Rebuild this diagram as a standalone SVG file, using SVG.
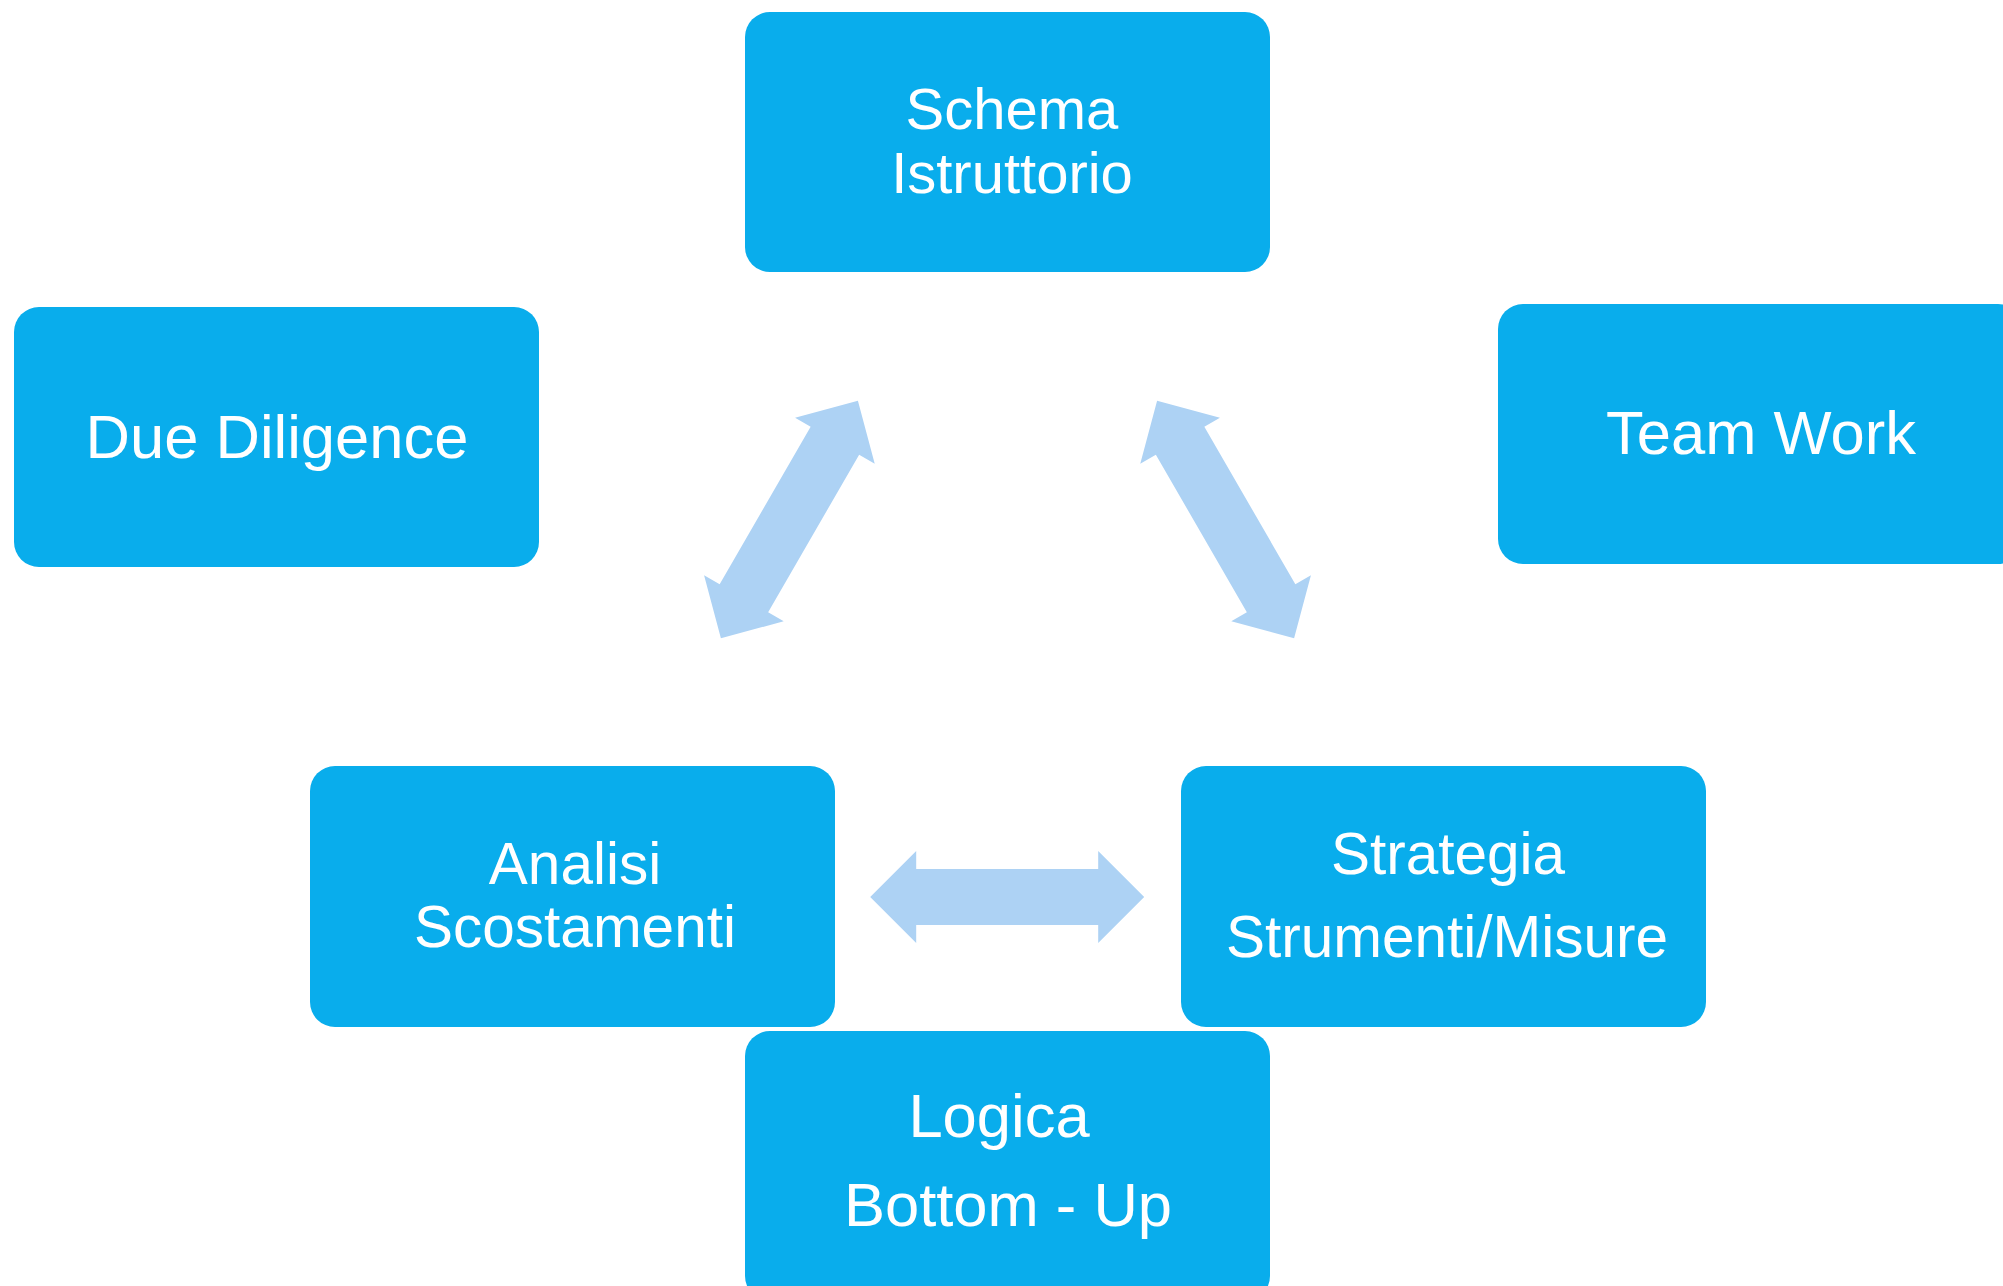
<svg xmlns="http://www.w3.org/2000/svg" xmlns:xlink="http://www.w3.org/1999/xlink" width="2003" height="1286" viewBox="0 0 2003 1286">
<style>
.box{fill:#09ADEC;}
.lbl{fill:#FFFFFF;font-family:"Liberation Sans",Arial,sans-serif;text-anchor:middle;}
.arr{fill:#ADD2F4;}
</style>
<defs>
<polygon id="dblarrow" points="-137,0 -91,-46 -91,-28 91,-28 91,-46 137,0 91,46 91,28 -91,28 -91,46"/>
</defs>
<rect width="2003" height="1286" fill="#FFFFFF"/>
<g id="connectors" class="arr">
<use xlink:href="#dblarrow" href="#dblarrow" transform="translate(789.4,519.5) rotate(-60)"/>
<use xlink:href="#dblarrow" href="#dblarrow" transform="translate(1225.6,519.5) rotate(60)"/>
<use xlink:href="#dblarrow" href="#dblarrow" transform="translate(1007.2,897)"/>
</g>
<g id="node-schema">
<rect class="box" x="745" y="12" width="525" height="260" rx="25" ry="25"/>
<text class="lbl" font-size="58"><tspan x="1012" y="129">Schema</tspan><tspan x="1012" y="193">Istruttorio</tspan></text>
</g>
<g id="node-due-diligence">
<rect class="box" x="14" y="307" width="525" height="260" rx="25" ry="25"/>
<text class="lbl" font-size="61.5" x="277" y="458">Due Diligence</text>
</g>
<g id="node-team-work">
<rect class="box" x="1498" y="304" width="525" height="260" rx="25" ry="25"/>
<text class="lbl" font-size="61.5" x="1761" y="454">Team Work</text>
</g>
<g id="node-analisi">
<rect class="box" x="310" y="766" width="525" height="261" rx="25" ry="25"/>
<text class="lbl" font-size="58.5"><tspan x="575" y="884">Analisi</tspan><tspan x="575" y="947">Scostamenti</tspan></text>
</g>
<g id="node-strategia">
<rect class="box" x="1181" y="766" width="525" height="261" rx="25" ry="25"/>
<text class="lbl" font-size="58.5"><tspan x="1448" y="874">Strategia</tspan><tspan x="1447" y="957">Strumenti/Misure</tspan></text>
</g>
<g id="node-logica">
<rect class="box" x="745" y="1031" width="525" height="270" rx="25" ry="25"/>
<text class="lbl" font-size="61.5"><tspan x="999" y="1137">Logica</tspan><tspan x="1008" y="1226">Bottom - Up</tspan></text>
</g>
</svg>
